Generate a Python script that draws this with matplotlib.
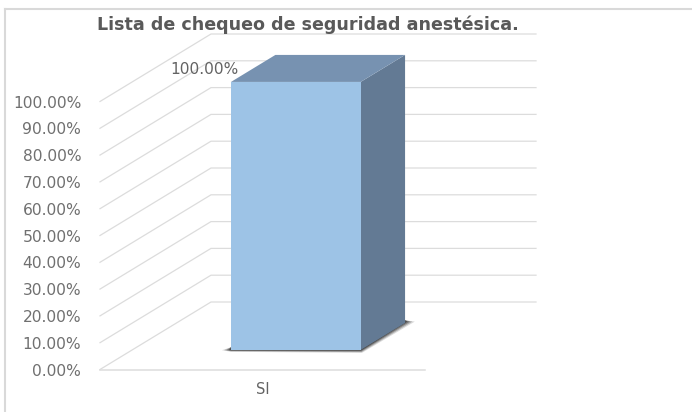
import matplotlib
matplotlib.use('Agg')
import matplotlib.pyplot as plt
from matplotlib.patches import Polygon

# Chart values
categories = ['SI']
values = [100.0]
tick_values = [0, 10, 20, 30, 40, 50, 60, 70, 80, 90, 100]
tick_labels = ['0.00%', '10.00%', '20.00%', '30.00%', '40.00%', '50.00%',
               '60.00%', '70.00%', '80.00%', '90.00%', '100.00%']
title = 'Lista de chequeo de seguridad anestésica.'

W, H = 692, 412
plt.rcParams['font.family'] = ['DejaVu Sans']

fig = plt.figure(figsize=(W / 100, H / 100), dpi=100)

# Plot box of the front plane, given in pixels
left, right, top, bottom = 100, 425, 101.5, 369.5
ax = fig.add_axes([left / W, 1 - bottom / H, (right - left) / W, (bottom - top) / H])
ax.set_xlim(0, 1)
ax.set_ylim(0, 100)
ax.patch.set_visible(False)
for s in ax.spines.values():
    s.set_visible(False)

# Oblique depth of the 3D box, in axes data units
dx = 111 / (right - left)
dy = 67.5 / (bottom - top) * 100


def project(x, v, d):
    return x + d * dx, v + d * dy


grid = '#dcdcdc'
for v in tick_values:
    x0, y0 = project(0, v, 0)
    x1, y1 = project(0, v, 1)
    x2, y2 = project(1, v, 1)
    ax.plot([x0, x1, x2], [y0, y1, y2], color=grid, lw=0.9, clip_on=False, solid_joinstyle='miter')
ax.plot([0, 1], [0, 0], color=grid, lw=1.1, clip_on=False)

# 3D column: depth runs from d0 to d1 on the floor
d0, d1 = 0.29, 0.69
xa, xb = 0.304, 0.703
val = values[0]


def poly(pts, color, z=3):
    ax.add_patch(Polygon(pts, closed=True, facecolor=color, edgecolor='none', zorder=z, clip_on=False))


# Soft shadow under the column, stacked from wide and faint to narrow and dark
for off, alpha in [(1.0, 0.18), (0.75, 0.28), (0.5, 0.42), (0.25, 0.6)]:
    poly([project(xa - 0.028 * off, -0.1, d0), project(xa, 1.0, d0),
          project(xb, 1.0, d1), project(xb + 0.03 * off, 0.5, d1),
          project(xb + 0.004 * off, -1.1 * off, d0), project(xa, -0.7 * off, d0)],
         (0.2, 0.2, 0.2, alpha), z=2)

poly([project(xb, 0, d0), project(xb, 0, d1), project(xb, val, d1), project(xb, val, d0)], '#637a94')
poly([project(xa, val, d0), project(xb, val, d0), project(xb, val, d1), project(xa, val, d1)], '#7792b1')
poly([project(xa, 0, d0), project(xb, 0, d0), project(xb, val, d0), project(xa, val, d0)], '#9dc3e6')

# Value label, placed just above the column's front corner
lx, ly = project(xa, val, d0)
ax.text(lx + 0.022, ly + 1.8, '%.2f%%' % val, ha='right', va='bottom', fontsize=11.1, color='#636363', zorder=4)

ax.set_yticks(tick_values)
ax.set_yticklabels(tick_labels, fontsize=11.2, color='#707070')
ax.set_xticks([0.5])
ax.set_xticklabels(categories, fontsize=10.5, color='#636363')
ax.tick_params(axis='both', length=0)
ax.tick_params(axis='y', pad=13.5)
ax.tick_params(axis='x', pad=9)

fig.text(308 / W, 1 - 25 / H, title, ha='center', va='center', fontsize=12.65, fontweight='bold', color='#595959')

# Outer chart frame: only the top and left edges show
frame = '#d9d9d9'
fig.add_artist(plt.Line2D([5 / W, 5 / W], [0, 1 - 8.5 / H], color=frame, lw=1.5))
fig.add_artist(plt.Line2D([5 / W, 1], [1 - 8.5 / H, 1 - 8.5 / H], color=frame, lw=1.5))

fig.savefig('out.png', dpi=100)
